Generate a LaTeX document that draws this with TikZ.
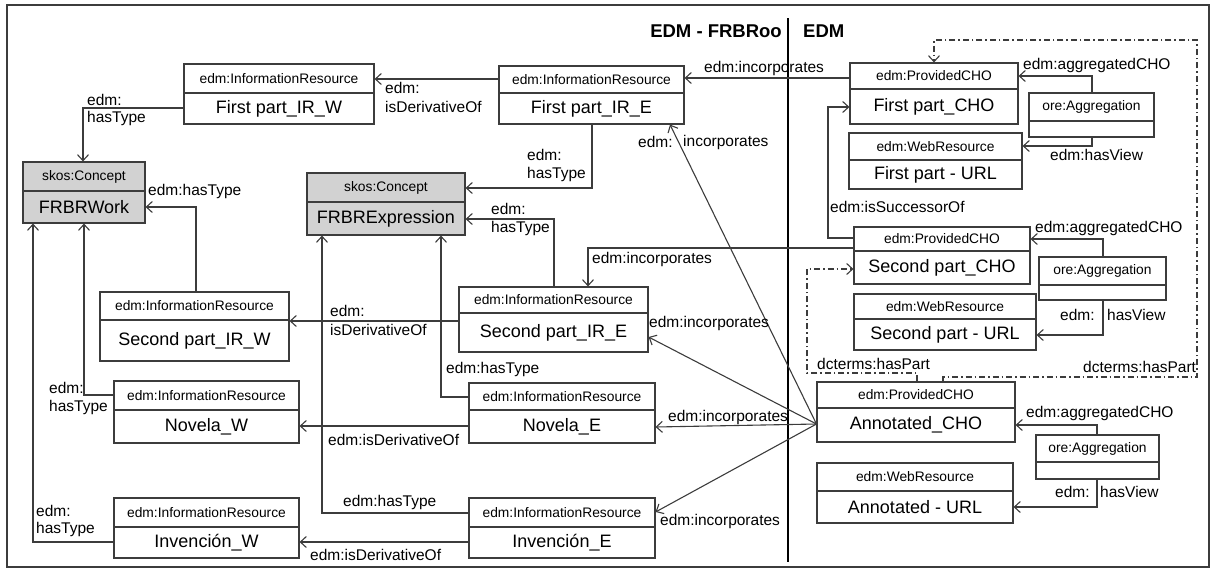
\documentclass[tikz,border=0pt]{standalone}
\usepackage{fontspec}
\setmainfont{Liberation Sans}
\usetikzlibrary{arrows.meta,fit,calc}
\definecolor{ln}{HTML}{3C3C3C}
\definecolor{cg}{HTML}{D2D2D2}
\tikzset{
 obj/.style={draw=ln, line width=1.1pt, inner sep=0pt, rectangle},
 hdr/.style={font=\fontsize{13.8}{16}\selectfont, inner sep=0pt},
 mtx/.style={font=\fontsize{18}{21}\selectfont, inner sep=0pt},
 lbl/.style={font=\fontsize{15.5}{18}\selectfont, inner sep=0pt, anchor=west},
 conn/.style={draw=ln, line width=1.1pt, -{Straight Barb[length=6pt,width=11pt]}},
 dd/.style={conn, dash pattern=on 6pt off 3pt on 1.5pt off 3pt},
}
\newcommand\umlobj[9]{%
 \node[obj, fill=#9, fit={(#2,#3) (#5,#6)}] (#1) {};
 \draw[ln, line width=1.1pt] (#2,#4) -- (#5,#4);
 \node[hdr] (#1-h) at ($(#2,#3)!0.5!(#5,#4)$) {#7};
 \node[mtx] (#1-m) at ($(#2,#4)!0.5!(#5,#6)$) {#8};
}
\begin{document}
\begin{tikzpicture}[x=1pt,y=-1pt]
\useasboundingbox (0,0) rectangle (1216,574);
\draw[ln, line width=1.2pt] (7,5) rectangle (1209,567);
% divider and titles
\coordinate (dtop) at (788,18);
\coordinate (dbot) at (788,562);
\draw[black, line width=2pt] (dtop) -- (dbot);
\node[font=\fontsize{18.5}{22}\selectfont\bfseries, inner sep=0pt, anchor=east] (t1) at (782,31) {EDM - FRBRoo};
\node[font=\fontsize{18.5}{22}\selectfont\bfseries, inner sep=0pt, anchor=west] (t2) at (803,31) {EDM};

% objects
\umlobj{IRW1}{184}{64}{93}{374}{124}{edm:InformationResource}{First part\_IR\_W}{white}
\umlobj{IRE1}{499}{66}{93}{684}{124}{edm:InformationResource}{First part\_IR\_E}{white}
\umlobj{Work}{23}{162}{191}{145}{223}{skos:Concept}{FRBRWork}{cg}
\umlobj{Expr}{307}{173}{202}{465}{235}{skos:Concept}{FRBRExpression}{cg}
\umlobj{CHO1}{850}{63}{89}{1018}{124}{edm:ProvidedCHO}{First part\_CHO}{white}
\umlobj{AGG1}{1029}{93}{121}{1154}{137}{ore:Aggregation}{}{white}
\umlobj{URL1}{849}{133}{160}{1022}{189}{edm:WebResource}{First part - URL}{white}
\umlobj{CHO2}{854}{227}{251}{1030}{284}{edm:ProvidedCHO}{Second part\_CHO}{white}
\umlobj{AGG2}{1039}{257}{285}{1166}{300}{ore:Aggregation}{}{white}
\umlobj{URL2}{854}{294}{319}{1036}{350}{edm:WebResource}{Second part - URL}{white}
\umlobj{CHO3}{817}{382}{408}{1015}{442}{edm:ProvidedCHO}{Annotated\_CHO}{white}
\umlobj{AGG3}{1036}{435}{462}{1159}{479}{ore:Aggregation}{}{white}
\umlobj{URL3}{817}{463}{491}{1013}{523}{edm:WebResource}{Annotated - URL}{white}
\umlobj{IRW2}{100}{292}{320}{289}{361}{edm:InformationResource}{Second part\_IR\_W}{white}
\umlobj{IRE2}{459}{287}{313}{648}{352}{edm:InformationResource}{Second part\_IR\_E}{white}
\umlobj{NovW}{114}{381}{410}{299}{443}{edm:InformationResource}{Novela\_W}{white}
\umlobj{NovE}{469}{383}{410}{655}{443}{edm:InformationResource}{Novela\_E}{white}
\umlobj{InvW}{114}{498}{527}{299}{558}{edm:InformationResource}{Invención\_W}{white}
\umlobj{InvE}{469}{498}{527}{655}{558}{edm:InformationResource}{Invención\_E}{white}

% isDerivativeOf
\draw[conn] (IRE1.west |- 0,79) -- (IRW1.east |- 0,79);
\node[lbl] (l1a) at (385,88) {edm:};
\node[lbl] (l1b) at (385,107) {isDerivativeOf};
\draw[conn] (IRE2.west |- 0,321) -- (IRW2.east |- 0,321);
\node[lbl] (l2a) at (330,311) {edm:};
\node[lbl] (l2b) at (330,330) {isDerivativeOf};
\draw[conn] (NovE.west |- 0,426) -- (NovW.east |- 0,426);
\node[lbl] (l3) at (328,440) {edm:isDerivativeOf};
\draw[conn] (InvE.west |- 0,542) -- (InvW.east |- 0,542);
\node[lbl] (l4) at (310,555) {edm:isDerivativeOf};

% hasType to FRBRWork
\draw[conn] (IRW1.west |- 0,108) -| (Work.north -| 83,0);
\node[lbl] (l5a) at (87,100) {edm:};
\node[lbl] (l5b) at (87,118) {hasType};
\draw[conn] (IRW2.north -| 196,0) |- (Work.east |- 0,207);
\node[lbl] (l6) at (148,191) {edm:hasType};
\draw[conn] (NovW.west |- 0,395) -| (Work.south -| 84,0);
\node[lbl] (l7a) at (49,388) {edm:};
\node[lbl] (l7b) at (49,407) {hasType};
\draw[conn] (InvW.west |- 0,542) -| (Work.south -| 33,0);
\node[lbl] (l8a) at (36,511) {edm:};
\node[lbl] (l8b) at (36,529) {hasType};

% hasType to FRBRExpression
\draw[conn] (IRE1.south -| 592,0) |- (Expr.east |- 0,188);
\node[lbl] (l9a) at (527,155) {edm:};
\node[lbl] (l9b) at (527,174) {hasType};
\draw[conn] (IRE2.north -| 554,0) |- (Expr.east |- 0,219);
\node[lbl] (l10a) at (491,209) {edm:};
\node[lbl] (l10b) at (491,228) {hasType};
\draw[conn] (NovE.west |- 0,397) -| (Expr.south -| 441,0);
\node[lbl] (l11) at (446,369) {edm:hasType};
\draw[conn] (InvE.west |- 0,513) -| (Expr.south -| 322,0);
\node[lbl] (l12) at (343,502) {edm:hasType};

% incorporates
\draw[conn] (CHO1.west |- 0,78) -- (IRE1.east |- 0,78);
\node[lbl] (l13) at (704,68) {edm:incorporates};
\coordinate (a3) at (CHO3.west |- 0,424);
\draw[conn] (a3) -- (IRE1.south -| 670,0);
\node[lbl] (l14a) at (638,142) {edm:};
\node[lbl] (l14b) at (683,142) {incorporates};
\draw[conn] (CHO2.west |- 0,248) -| (IRE2.north -| 588,0);
\node[lbl] (l15) at (592,259) {edm:incorporates};
\draw[conn] (a3) -- (IRE2.east |- 0,337);
\node[lbl] (l16) at (649,323) {edm:incorporates};
\draw[conn] (a3) -- (NovE.east |- 0,427);
\node[lbl] (l17) at (668,417) {edm:incorporates};
\draw[conn] (a3) -- (InvE.east |- 0,512);
\node[lbl] (l18) at (660,521) {edm:incorporates};

% isSuccessorOf
\draw[conn] (CHO2.west |- 0,238) -- (828,238) -- (828,107) -- (CHO1.west |- 0,107);
\node[lbl] (l19) at (830,207) {edm:isSuccessorOf};

% aggregations
\draw[conn] (AGG1.north -| 1092,0) |- (CHO1.east |- 0,76);
\node[lbl] (l20) at (1023,65) {edm:aggregatedCHO};
\draw[conn] (AGG1.south -| 1092,0) |- (URL1.east |- 0,146);
\node[lbl] (l21) at (1050,155) {edm:hasView};
\draw[conn] (AGG2.north -| 1103,0) |- (CHO2.east |- 0,239);
\node[lbl] (l22) at (1035,228) {edm:aggregatedCHO};
\draw[conn] (AGG2.south -| 1103,0) |- (URL2.east |- 0,335);
\node[lbl] (l23a) at (1060,315) {edm:};
\node[lbl] (l23b) at (1107,315) {hasView};
\draw[conn] (AGG3.north -| 1097,0) |- (CHO3.east |- 0,425);
\node[lbl] (l24) at (1026,413) {edm:aggregatedCHO};
\draw[conn] (AGG3.south -| 1097,0) |- (URL3.east |- 0,507);
\node[lbl] (l25a) at (1055,492) {edm:};
\node[lbl] (l25b) at (1100,492) {hasView};

% hasPart (dash-dot)
\draw[dd] (CHO3.north -| 943,0) -- (943,377) -- (1197,377) -- (1197,40) -- (934,40) -- (CHO1.north -| 934,0);
\node[lbl] (l26) at (1083,367) {dcterms:hasPart};
\draw[dd] (CHO3.north -| 917,0) -- (917,373) -- (807,373) -- (807,269) -- (CHO2.west |- 0,269);
\node[lbl] (l27) at (817,364) {dcterms:hasPart};
\end{tikzpicture}
\end{document}
